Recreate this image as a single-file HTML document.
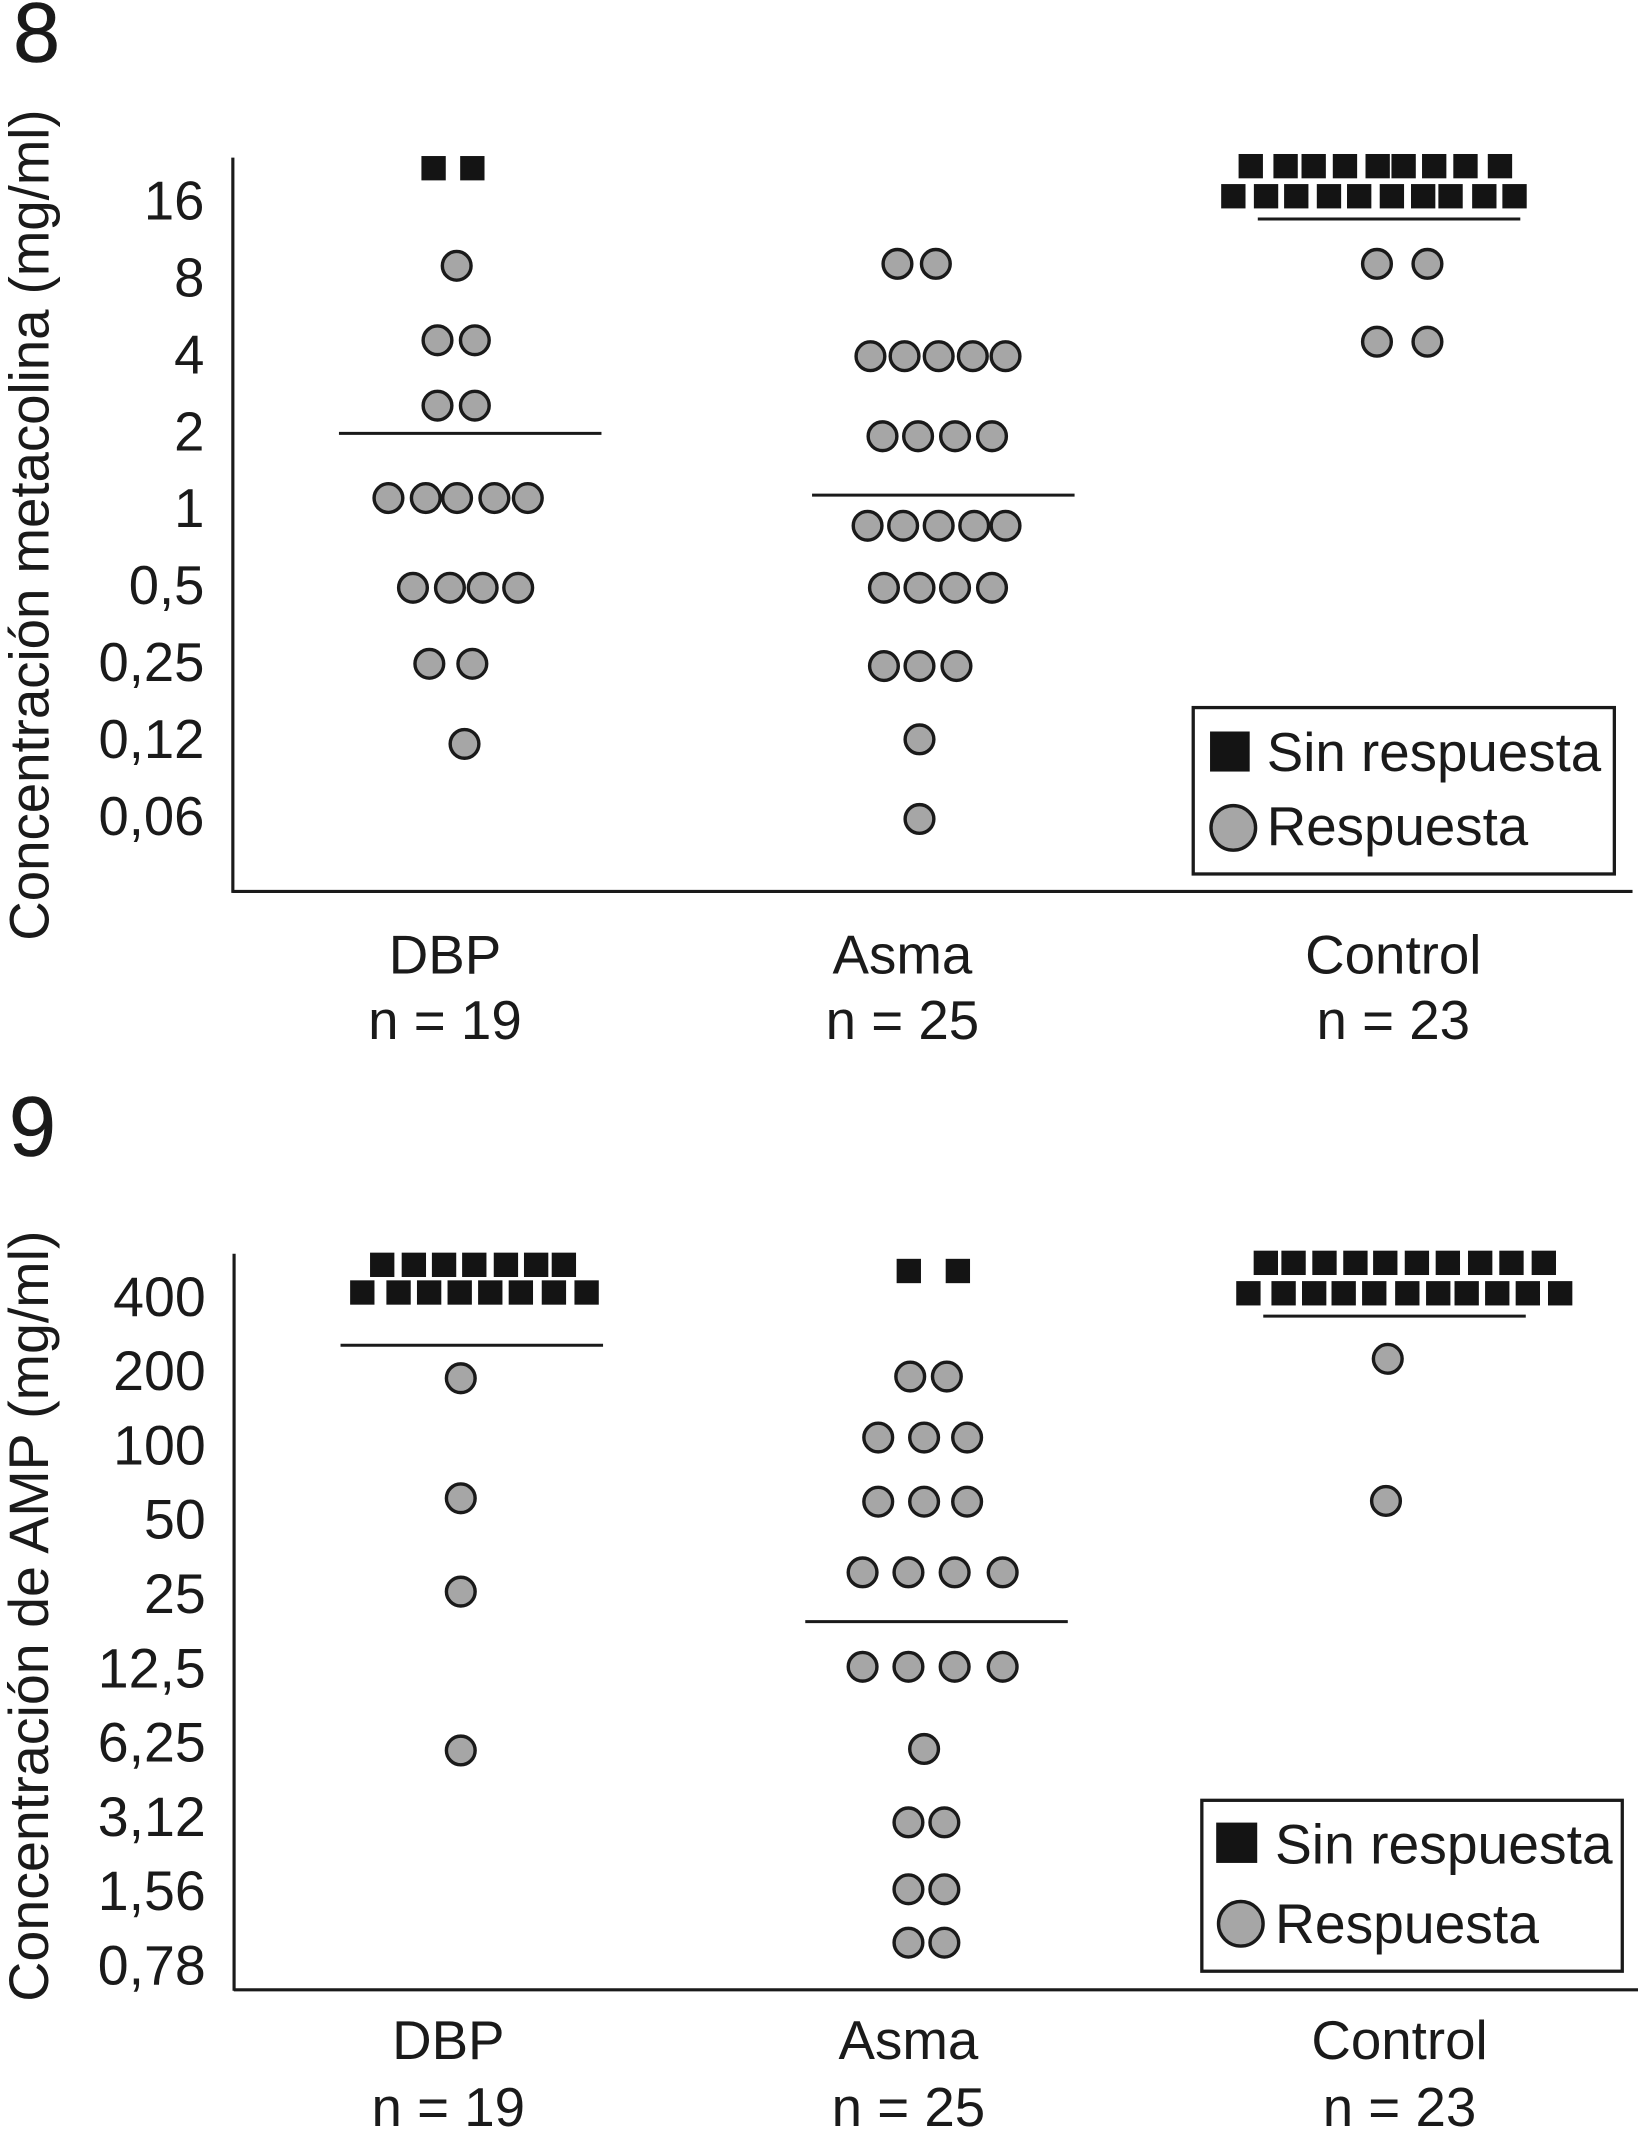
<!DOCTYPE html>
<html lang="es">
<head>
<meta charset="utf-8">
<title>Concentración de metacolina y AMP</title>
<style>
  html, body { margin: 0; padding: 0; background: #fff; }
  svg { display: block; }
  text { font-family: "Liberation Sans", Arial, sans-serif; fill: #1a1a1a; }
</style>
</head>
<body>
<svg id="chart" xmlns="http://www.w3.org/2000/svg" width="1638" height="2145" viewBox="0 0 1198 1568.8" preserveAspectRatio="none">
  <rect x="0" y="0" width="1198" height="1569" fill="#fff"/>

  <text x="9.5" y="45" font-size="62" stroke="#1a1a1a" stroke-width="0.4">8</text>
  <text transform="translate(35.4,688) rotate(-90)" font-size="40.5" textLength="608" lengthAdjust="spacingAndGlyphs">Concentración metacolina (mg/ml)</text>
  <line x1="170.3" y1="115.3" x2="170.3" y2="653" stroke="#1a1a1a" stroke-width="2.3"/>
  <line x1="170" y1="652" x2="1194" y2="652" stroke="#1a1a1a" stroke-width="2.3"/>
  <g id="fig8-layer"></g>
  <g>
    <rect x="872.7" y="517.5" width="308" height="121.7" fill="#fff" stroke="#1a1a1a" stroke-width="2.4"/>
    <rect x="885" y="535" width="29" height="29.3" fill="#141414"/>
    <text x="926.5" y="564" font-size="40">Sin respuesta</text>
    <circle cx="902" cy="605.5" r="16.3" fill="#a6a6a6" stroke="#1a1a1a" stroke-width="2.5"/>
    <text x="926.5" y="618" font-size="40">Respuesta</text>
  </g>

  <text x="6.5" y="845" font-size="62" stroke="#1a1a1a" stroke-width="0.4">9</text>
  <text transform="translate(35,1464) rotate(-90)" font-size="40.5" textLength="564" lengthAdjust="spacingAndGlyphs">Concentración de AMP (mg/ml)</text>
  <line x1="171.2" y1="917" x2="171.2" y2="1456" stroke="#1a1a1a" stroke-width="2.3"/>
  <line x1="171" y1="1455.3" x2="1198" y2="1455.3" stroke="#1a1a1a" stroke-width="2.3"/>
  <g id="fig9-layer"></g>
  <g>
    <rect x="879" y="1316.7" width="307.5" height="125" fill="#fff" stroke="#1a1a1a" stroke-width="2.4"/>
    <rect x="889.5" y="1333" width="30" height="29.5" fill="#141414"/>
    <text x="932.5" y="1363" font-size="40.4">Sin respuesta</text>
    <circle cx="907.5" cy="1407" r="16.3" fill="#a6a6a6" stroke="#1a1a1a" stroke-width="2.5"/>
    <text x="932.5" y="1421" font-size="40.4">Respuesta</text>
  </g>
</svg>

<script>
// ---- Figure 8: metacholine (mg/ml) ----
const fig8Categories = ["DBP", "Asma", "Control"];
const fig8Counts = [19, 25, 23];
const fig8TickValues = [16, 8, 4, 2, 1, 0.5, 0.25, 0.125, 0.0625];
const fig8TickLabels = ["16", "8", "4", "2", "1", "0,5", "0,25", "0,12", "0,06"];
const fig8Medians = [1.97, 1.13, 13.6];
// Non-responders (squares): concentration, and swarm slot within the group
const fig8NoRespDbp = [21.5, 21.5];
const fig8NoRespDbpSlots = [-0.88, 0.21];
const fig8NoRespAsma = [];
const fig8NoRespAsmaSlots = [];
const fig8NoRespControl = [21.9, 21.9, 21.9, 21.9, 21.9, 21.9, 21.9, 21.9, 21.9, 16.7, 16.7, 16.7, 16.7, 16.7, 16.7, 16.7, 16.7, 16.7, 16.7];
const fig8NoRespControlSlots = [-4.47, -3.49, -2.7, -1.82, -0.9, -0.17, 0.69, 1.57, 2.54, -4.96, -4.04, -3.19, -2.27, -1.42, -0.5, 0.38, 1.15, 2.1, 2.95];
// Responders (circles)
const fig8RespDbp = [8.92, 4.56, 4.56, 2.53, 2.53, 1.1, 1.1, 1.1, 1.1, 1.1, 0.49, 0.49, 0.49, 0.49, 0.247, 0.247, 0.12];
const fig8RespDbpSlots = [-0.23, -0.77, 0.28, -0.77, 0.28, -2.15, -1.1, -0.22, 0.83, 1.77, -1.46, -0.42, 0.5, 1.5, -1, 0.21, -0.01];
const fig8RespAsma = [9.08, 9.08, 3.95, 3.95, 3.95, 3.95, 3.95, 1.92, 1.92, 1.92, 1.92, 0.857, 0.857, 0.857, 0.857, 0.857, 0.49, 0.49, 0.49, 0.49, 0.242, 0.242, 0.242, 0.125, 0.061];
const fig8RespAsmaSlots = [-1.12, -0.04, -1.88, -0.92, 0.04, 1, 1.92, -1.54, -0.54, 0.5, 1.54, -1.96, -0.96, 0.04, 1.04, 1.92, -1.5, -0.5, 0.5, 1.54, -1.5, -0.5, 0.54, -0.5, -0.5];
const fig8RespControl = [9.08, 9.08, 4.5, 4.5];
const fig8RespControlSlots = [-0.92, 0.5, -0.92, 0.5];

// ---- Figure 9: AMP (mg/ml) ----
const fig9Categories = ["DBP", "Asma", "Control"];
const fig9Counts = [19, 25, 23];
const fig9TickValues = [400, 200, 100, 50, 25, 12.5, 6.25, 3.125, 1.5625, 0.78125];
const fig9TickLabels = ["400", "200", "100", "50", "25", "12,5", "6,25", "3,12", "1,56", "0,78"];
const fig9Medians = [253, 19.2, 332];
const fig9NoRespDbp = [536, 536, 536, 536, 536, 536, 536, 414, 414, 414, 414, 414, 414, 414, 414];
const fig9NoRespDbpSlots = [-2.21, -1.32, -0.47, 0.38, 1.27, 2.12, 2.9, -2.77, -1.75, -0.89, -0.03, 0.83, 1.69, 2.62, 3.54];
const fig9NoRespAsma = [506, 506];
const fig9NoRespAsmaSlots = [-0.57, 0.81];
const fig9NoRespControl = [546, 546, 546, 546, 546, 546, 546, 546, 546, 546, 411, 411, 411, 411, 411, 411, 411, 411, 411, 411, 411];
const fig9NoRespControlSlots = [-3.7, -2.92, -2.05, -1.18, -0.34, 0.55, 1.42, 2.33, 3.21, 4.12, -4.19, -3.2, -2.34, -1.51, -0.65, 0.28, 1.15, 1.95, 2.81, 3.67, 4.58];
const fig9RespDbp = [186, 60.7, 25.4, 5.77];
const fig9RespDbpSlots = [0, 0, 0, 0];
const fig9RespAsma = [189, 189, 107, 107, 107, 58.8, 58.8, 58.8, 30.4, 30.4, 30.4, 30.4, 12.6, 12.6, 12.6, 12.6, 5.85, 2.95, 2.95, 1.58, 1.58, 0.96, 0.96];
const fig9RespAsmaSlots = [-0.53, 0.5, -1.43, -0.14, 1.07, -1.43, -0.14, 1.07, -1.87, -0.58, 0.72, 2.07, -1.87, -0.58, 0.72, 2.07, -0.14, -0.58, 0.43, -0.58, 0.43, -0.58, 0.43];
const fig9RespControl = [223, 59.2];
const fig9RespControlSlots = [-0.27, -0.32];

const SVG_NS = "http://www.w3.org/2000/svg";
const SLOT_WIDTH = 26;
const SQUARE = 17.8;
const DOT_R = 10.5;
const MEDIAN_HALF = 96;

function make(tag, parent, attrs, txt) {
  const el = document.createElementNS(SVG_NS, tag);
  for (const k in attrs) el.setAttribute(k, attrs[k]);
  if (txt !== undefined) el.textContent = txt;
  parent.appendChild(el);
  return el;
}

function drawFigure(layer, f) {
  // Axis functions: y is log2 of concentration, x is group index + swarm slot
  const yScale = v => f.yRefPx - f.pxPerDoubling * Math.log2(v / f.yRefValue);
  const xScale = (group, slot) => f.x0 + group * f.step + slot * SLOT_WIDTH;

  f.tickValues.forEach((v, i) => {
    const t = make("text", layer, { x: f.tickX, y: yScale(v) + f.tickBaseline, "font-size": f.tickSize, "text-anchor": "end" }, f.tickLabels[i]);
    
    
  });

  f.categories.forEach((c, g) => {
    const cx = xScale(g, f.labelSlots[g]);
    const t1 = make("text", layer, { x: cx, y: f.labelY, "font-size": 40, "text-anchor": "middle" }, c);
    
    
    const t2 = make("text", layer, { x: cx, y: f.countY, "font-size": 40, "text-anchor": "middle" }, "n = " + f.counts[g]);
    
    

    const mc = xScale(g, f.medianSlots[g]);
    const my = yScale(f.medians[g]);
    const line = make("line", layer, { x1: mc - MEDIAN_HALF, x2: mc + MEDIAN_HALF, y1: my, y2: my, stroke: "#1a1a1a", "stroke-width": 2.2 });
    
    

    f.noResp[g].forEach((v, i) => {
      const x = xScale(g, f.noRespSlots[g][i]);
      const y = yScale(v);
      const sq = make("rect", layer, { x: x - SQUARE / 2, y: y - SQUARE / 2, width: SQUARE, height: SQUARE, fill: "#141414" });
      
      
    });

    f.resp[g].forEach((v, i) => {
      const x = xScale(g, f.respSlots[g][i]);
      const y = yScale(v);
      const dot = make("circle", layer, { cx: x, cy: y, r: DOT_R, fill: "#a6a6a6", stroke: "#1a1a1a", "stroke-width": 2.5 });
      
      
    });
  });
}

drawFigure(document.getElementById("fig8-layer"), {
  categories: fig8Categories, counts: fig8Counts,
  tickValues: fig8TickValues, tickLabels: fig8TickLabels, medians: fig8Medians,
  noResp: [fig8NoRespDbp, fig8NoRespAsma, fig8NoRespControl],
  noRespSlots: [fig8NoRespDbpSlots, fig8NoRespAsmaSlots, fig8NoRespControlSlots],
  resp: [fig8RespDbp, fig8RespAsma, fig8RespControl],
  respSlots: [fig8RespDbpSlots, fig8RespAsmaSlots, fig8RespControlSlots],
  medianSlots: [0.15, 0.17, -0.58], labelSlots: [-0.56, -0.98, -0.46],
  yRefValue: 1, yRefPx: 372, pxPerDoubling: 56.25, x0: 340, step: 345.5,
  tickX: 149.5, tickSize: 39.8, tickBaseline: 13.6, labelY: 712, countY: 760
});

drawFigure(document.getElementById("fig9-layer"), {
  categories: fig9Categories, counts: fig9Counts,
  tickValues: fig9TickValues, tickLabels: fig9TickLabels, medians: fig9Medians,
  noResp: [fig9NoRespDbp, fig9NoRespAsma, fig9NoRespControl],
  noRespSlots: [fig9NoRespDbpSlots, fig9NoRespAsmaSlots, fig9NoRespControlSlots],
  resp: [fig9RespDbp, fig9RespAsma, fig9RespControl],
  respSlots: [fig9RespDbpSlots, fig9RespAsmaSlots, fig9RespControlSlots],
  medianSlots: [0.31, 0.21, -0.08], labelSlots: [-0.35, -0.58, 0.06],
  yRefValue: 400, yRefPx: 948, pxPerDoubling: 54.33, x0: 337, step: 342.5,
  tickX: 150.5, tickSize: 40.6, tickBaseline: 14.4, labelY: 1506, countY: 1555
});
</script>
</body>
</html>
